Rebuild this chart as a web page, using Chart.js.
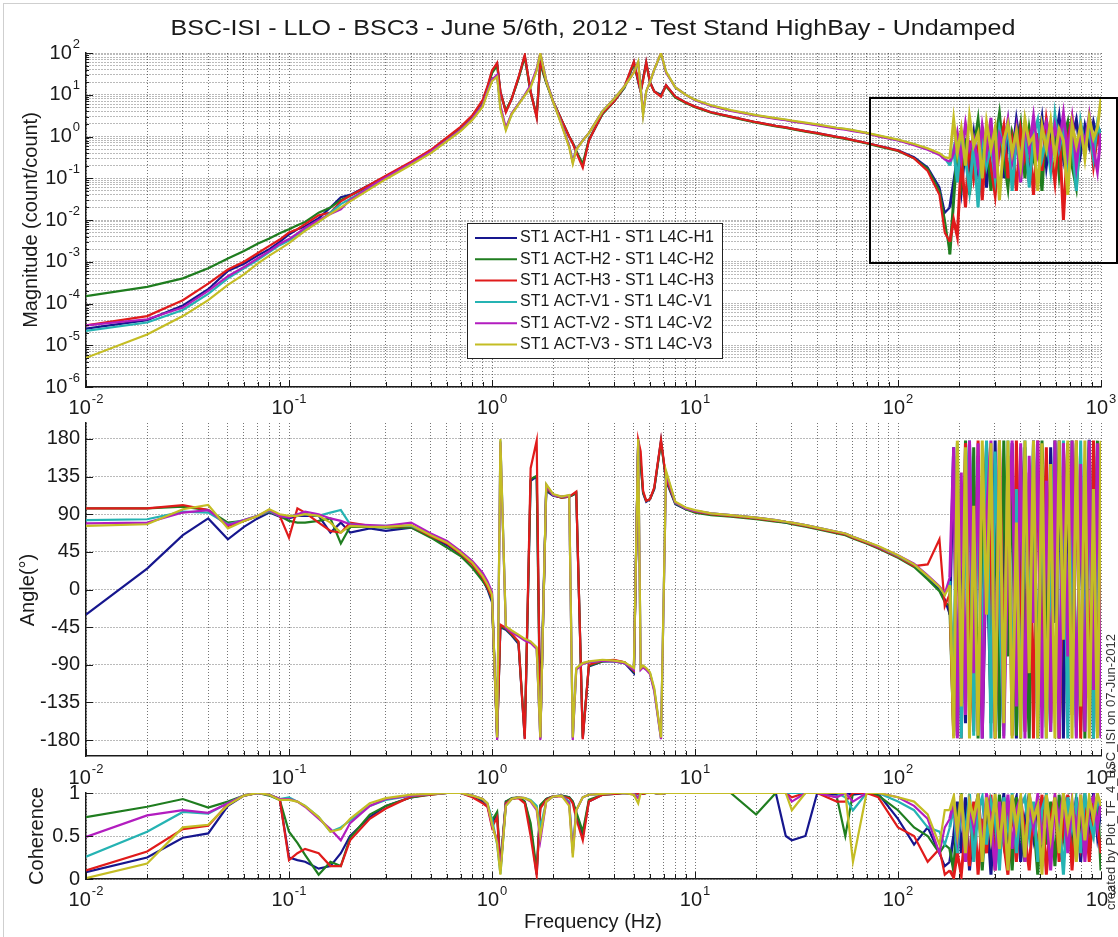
<!DOCTYPE html>
<html><head><meta charset="utf-8">
<script src="https://cdn.jsdelivr.net/npm/chart.js@4.4.1/dist/chart.umd.min.js"></script>
<style>
html,body{margin:0;padding:0;background:#fff;}
#wrap{position:relative;width:1118px;height:937px;overflow:hidden;background:#fff;}
canvas{position:absolute;left:0;}
#frame{position:absolute;left:3px;top:3px;width:1120px;height:940px;border-left:1px solid #cfcfcf;border-top:1px solid #cfcfcf;}
#side{position:absolute;left:960px;top:765px;width:300px;height:14px;line-height:14px;text-align:center;white-space:nowrap;
 font:13px "Liberation Sans",Arial,sans-serif;color:#333;transform:rotate(-90deg);transform-origin:150px 7px;z-index:5;}
</style></head><body>
<div id="wrap">
<div id="frame"></div>
<canvas id="cMag" width="1118" height="420" style="top:0px"></canvas>
<canvas id="cAng" width="1118" height="375" style="top:415px"></canvas>
<canvas id="cCoh" width="1118" height="152" style="top:785px"></canvas>
<div id="side">created by Plot_TF_4_BSC_ISI on 07-Jun-2012</div>
</div>
<script>
// ---------------- DATA ----------------
const freq = [
0.01,0.02,0.03,0.04,0.05,0.06,0.07,0.08,0.09,0.1,0.11,0.12,0.14,0.16,0.18,0.2,0.25,0.3,0.4,0.5,0.6,0.7,0.8,0.9,
0.95,1.0,1.06,1.1,1.17,1.25,1.35,1.45,1.55,1.66,1.73,1.85,2.0,2.2,2.4,2.5,2.6,2.8,3.0,3.5,4.0,4.5,5.0,5.25,5.4,5.55,5.75,6.0,6.3,6.8,7.2,8.0,9.0,10,
12,15,20,25,28,30,35,40,50,55,60,70,80,100,120,140,160,170,
180,188,196,205,215,225,236,248,260,273,287,301,316,332,348,365,383,402,422,443,465,488,512,538,565,593,622,653,686,720,756,794,833,875,918,960,1000];

const seriesNames = ['ST1 ACT-H1 - ST1 L4C-H1','ST1 ACT-H2 - ST1 L4C-H2','ST1 ACT-H3 - ST1 L4C-H3',
                     'ST1 ACT-V1 - ST1 L4C-V1','ST1 ACT-V2 - ST1 L4C-V2','ST1 ACT-V3 - ST1 L4C-V3'];
const seriesColors = ['#16168e','#1f7d1f','#e01b1b','#25b3b3','#b21dbf','#c4bd24'];

// Magnitude (count/count)
const magH1 = [2.5e-5,4e-5,9e-5,2.2e-4,6e-4,9e-4,1.4e-3,2e-3,3e-3,4.5e-3,6e-3,7e-3,1.1e-2,2e-2,3.5e-2,4e-2,7e-2,1.1e-1,2.4e-1,4.5e-1,0.9,1.6,3,7,
 15,35,55,12,4,8,25,85,12,3,60,20,7,2.5,1.0,0.7,0.45,0.2,0.8,3.5,7,15,60,20,12,25,60,20,12,10,17,9,6.5,5.2,
 3.8,3.0,2.2,1.8,1.65,1.55,1.35,1.2,0.98,0.9,0.82,0.7,0.6,0.47,0.32,0.18,0.06,0.015,
 0.02,0.08,0.3,0.05,0.6,0.2,1.2,0.15,0.8,0.06,1.5,0.4,2.2,0.1,0.9,0.3,2.5,0.5,1.2,0.08,1.8,0.6,2.8,0.2,1.5,0.7,3.0,0.3,1.4,0.9,2.5,0.4,1.8,0.6,2.2,0.9,1.5];
const magH2 = [1.5e-4,2.5e-4,4e-4,7e-4,1.2e-3,1.8e-3,2.7e-3,3.6e-3,4.8e-3,6e-3,7.5e-3,9e-3,1.5e-2,2e-2,3e-2,3.8e-2,6.5e-2,1.1e-1,2.3e-1,4.4e-1,0.85,1.55,2.9,6.8,
 14,33,50,11,4.2,8,24,80,11,3.2,55,19,7,2.5,1.0,0.7,0.45,0.22,0.85,3.4,7,15,55,22,12,24,55,20,12,9.5,16,8.5,6.3,5.0,
 3.7,2.9,2.15,1.75,1.6,1.5,1.3,1.17,0.95,0.88,0.8,0.68,0.58,0.45,0.3,0.17,0.05,0.01,
 0.0015,0.03,0.6,0.08,0.9,0.04,0.5,2.5,0.2,1.1,0.05,0.7,3.5,0.3,0.06,1.2,0.5,2.0,0.1,1.5,0.3,0.8,0.05,2.5,0.4,1.6,0.12,0.9,2.2,0.2,0.06,1.4,0.5,2.0,0.3,1.2,0.8];
const magH3 = [3e-5,5e-5,1.2e-4,3e-4,6.5e-4,1e-3,1.6e-3,2.4e-3,3.4e-3,5e-3,6e-3,8e-3,1.3e-2,1.5e-2,2.8e-2,3.8e-2,7e-2,1.15e-1,2.5e-1,4.8e-1,0.95,1.7,3.2,7.5,
 16,38,58,12,3.8,8,26,90,12,2.8,65,21,7,2.5,1.0,0.68,0.42,0.18,0.8,3.6,7,16,62,22,12,22,60,20,12,9,17,9,6.5,5.2,
 3.8,3.0,2.2,1.8,1.65,1.55,1.35,1.2,0.98,0.9,0.82,0.7,0.6,0.46,0.3,0.15,0.04,0.005,
 0.003,0.01,0.004,0.3,0.02,0.8,0.1,0.5,0.03,1.0,0.2,0.04,0.6,1.8,0.1,0.7,0.05,1.4,0.3,0.9,0.04,1.2,0.15,2.5,0.5,0.08,1.6,0.01,0.9,2.8,0.3,1.5,0.6,2.0,0.2,1.0,0.5];
const magV1 = [2.2e-5,3.5e-5,7e-5,1.7e-4,4e-4,7e-4,1.1e-3,1.7e-3,2.5e-3,3.2e-3,4.5e-3,6e-3,9e-3,1.5e-2,2.4e-2,3.2e-2,6e-2,1e-1,2.2e-1,4.2e-1,0.8,1.4,2.6,5.5,
 12,22,28,5,1.5,3.5,6,10,16,40,95,22,7,2,0.6,0.25,0.5,0.8,1.2,4,8,16,35,60,15,3.5,12,20,40,95,35,15,10,7.5,
 5.5,4.2,3.2,2.7,2.5,2.35,2.1,1.9,1.6,1.5,1.4,1.2,1.05,0.82,0.65,0.5,0.38,0.3,
 0.2,0.5,0.08,1.0,0.3,0.05,0.7,0.02,1.3,0.2,0.6,0.1,1.5,0.4,2.0,0.05,0.8,0.3,1.6,0.06,1.1,2.5,0.3,0.9,0.15,3.2,0.5,1.4,0.2,0.8,0.05,2.2,0.6,1.5,0.3,2.0,1.0];
const magV2 = [3e-5,4.2e-5,8e-5,2e-4,4.5e-4,7.5e-4,1.2e-3,1.8e-3,2.7e-3,3.5e-3,4.8e-3,6.5e-3,1e-2,1.4e-2,1.8e-2,3e-2,6.2e-2,1.05e-1,2.3e-1,4.4e-1,0.82,1.45,2.7,5.8,
 12,23,30,5.5,1.6,3.6,6,10,17,42,100,22,7,2,0.6,0.24,0.5,0.8,1.2,4,8,16,35,58,15,3.6,12,20,40,100,34,15,10,7.4,
 5.4,4.1,3.15,2.65,2.45,2.3,2.05,1.85,1.55,1.45,1.35,1.2,1.0,0.8,0.62,0.48,0.36,0.28,
 0.25,0.4,1.2,0.3,2.0,0.5,0.9,0.2,1.8,0.4,2.8,0.1,1.1,0.6,2.5,0.3,1.5,0.08,1.9,0.5,3.0,0.4,1.2,2.2,0.3,1.8,0.6,3.5,0.4,2.6,0.2,1.5,0.7,3.2,0.5,0.15,1.2];
const magV3 = [5e-6,1.8e-5,5e-5,1.2e-4,2.8e-4,5e-4,9e-4,1.4e-3,2e-3,2.8e-3,4e-3,5.5e-3,9e-3,1.4e-2,2e-2,2.8e-2,5.5e-2,9.5e-2,2.1e-1,4e-1,0.78,1.35,2.5,5.2,
 11,21,27,4.5,1.4,3.4,5.8,9.5,15,38,100,21,6.8,1.9,0.55,0.22,0.48,0.8,1.2,4,8,16,34,62,14,3.2,12,20,40,100,36,15,10,7.6,
 5.6,4.3,3.25,2.75,2.55,2.4,2.15,1.95,1.62,1.52,1.42,1.22,1.06,0.84,0.66,0.52,0.4,0.32,
 0.3,2.5,0.4,1.5,0.2,3.0,0.6,1.2,0.1,2.2,0.5,1.6,0.03,0.8,2.0,0.4,1.3,0.2,2.6,0.7,1.0,0.05,1.8,0.5,2.4,0.3,1.5,0.8,0.04,2.0,0.6,1.8,0.3,2.8,0.9,1.6,8.0];

// Angle (degrees)
const angH1 = [-30,25,65,85,60,75,85,92,87,85,88,88,88,68,80,68,73,70,74,63,53,42,30,12,
 0,-15,-175,-45,-48,-55,-65,-178,130,135,-150,118,112,110,111,113,115,-178,-92,-86,-86,-88,-100,178,150,115,105,108,120,178,130,102,96,93,
 90,88,85,82,80,79,76,73,68,66,62,56,50,39,29,14,0,-12,
 -30,170,-175,120,-160,175,-90,160,-178,60,-140,178,-170,100,-60,175,-178,30,170,-120,178,-175,90,-165,170,-40,178,-178,140,-100,175,-170,50,179,-178,160,-150];
const angH2 = [97,97,99,95,80,82,88,93,88,82,80,80,82,85,55,75,75,74,74,62,50,40,26,10,
 2,-12,-172,-44,-47,-54,-63,-175,132,136,-176,120,113,110,111,113,116,-176,-91,-86,-85,-87,-98,176,152,116,106,108,121,176,132,103,96,92,
 89,87,84,81,80,78,75,72,67,65,61,55,49,38,27,12,-2,-15,
 -20,-170,160,-150,178,-120,170,-178,40,175,-160,120,-178,178,-80,150,-175,170,-30,-178,160,-140,178,10,-170,175,-178,80,-120,178,-165,130,-178,170,-60,178,-175];
const angH3 = [97,97,101,95,76,82,88,94,88,62,97,92,80,70,68,80,76,75,76,64,55,43,30,14,
 3,-10,-178,-42,-46,-53,-62,-179,145,178,-178,122,113,110,111,114,117,-179,-90,-85,-84,-87,-97,179,165,118,106,108,122,179,133,104,97,93,
 90,88,85,82,81,79,76,73,68,66,62,56,50,39,28,30,60,-20,
 -5,-175,130,-178,175,-60,-170,178,-140,170,20,-178,178,-110,160,-175,178,-50,-170,140,-178,178,-90,170,-160,178,-178,60,175,-150,178,-178,110,-130,178,-170,175];
const angV1 = [83,84,93,92,78,83,88,94,88,87,90,90,88,92,95,78,76,76,76,66,57,45,33,18,
 8,-5,-178,178,-45,-50,-55,-60,-63,-70,-178,125,113,111,112,-178,-95,-88,-87,-85,-86,-88,-95,178,-95,-92,-95,-100,-120,-178,140,104,97,94,
 91,89,86,83,81,80,77,74,69,67,63,57,51,40,30,16,3,-6,
 10,-120,175,-178,80,178,-175,150,-90,178,-178,165,-20,-175,178,-150,120,-178,178,-70,175,-178,150,-178,40,178,-160,178,-178,100,-175,178,-110,178,-178,60,170];
const angV2 = [79,80,92,95,77,83,88,95,88,86,90,93,90,85,82,78,77,76,80,67,58,46,34,20,
 10,-3,-180,176,-46,-51,-56,-61,-64,-71,-180,124,113,111,112,-180,-96,-89,-87,-85,-86,-88,-96,177,-96,-93,-96,-101,-122,-179,138,104,97,94,
 91,89,86,83,81,80,77,74,69,67,63,57,51,41,31,17,4,-5,
 15,170,-178,140,-150,178,-100,175,-178,90,178,-170,175,-178,50,178,-140,175,-178,160,-40,178,-178,130,-170,178,-178,175,-80,178,-178,150,-170,178,-120,175,-178];
const angV3 = [76,78,96,101,73,82,88,96,90,88,88,90,88,80,68,76,75,75,77,65,56,44,32,16,
 6,-6,-177,180,-44,-49,-54,-59,-62,-69,-177,126,114,111,113,-177,-94,-88,-86,-84,-85,-87,-94,180,-94,-91,-94,-99,-118,-177,142,105,98,95,
 91,89,86,83,81,80,77,74,69,67,63,57,52,41,30,16,3,-7,
 5,-178,178,-140,170,-178,100,-175,178,-30,175,-178,178,-160,178,-178,80,-178,178,-100,178,-178,175,-178,150,-178,178,-60,178,-178,178,-140,178,-178,120,-178,178];

// Coherence
const cohH1 = [0.08,0.25,0.48,0.53,0.85,0.97,1.0,0.98,0.93,0.25,0.22,0.2,0.12,0.15,0.3,0.5,0.72,0.85,0.95,0.99,1,1,0.96,0.9,
 0.85,0.65,0.75,0.12,0.9,0.93,0.95,0.9,0.6,0.05,0.85,0.93,0.96,0.97,0.95,0.9,0.75,0.5,0.9,0.98,0.99,1,0.99,0.99,1,0.99,1,1,1,0.99,1,1,1,1,
 1,1,1,1,0.5,0.45,0.5,1,0.98,1,0.98,1,0.99,0.7,0.4,0.6,0.3,0.15,
 0.2,0.5,0.9,0.3,0.95,0.1,0.7,0.98,0.4,0.85,0.05,0.9,0.6,0.98,0.3,0.8,0.95,0.2,0.7,0.99,0.5,0.9,0.15,0.95,0.6,0.85,0.3,0.98,0.7,0.4,0.95,0.2,0.9,0.6,0.98,0.5,0.8];
const cohH2 = [0.72,0.84,0.93,0.83,0.9,0.97,1.0,0.97,0.92,0.55,0.42,0.28,0.05,0.2,0.15,0.48,0.75,0.85,0.95,0.98,1,1,0.97,0.92,
 0.86,0.68,0.78,0.15,0.9,0.94,0.95,0.9,0.65,0.1,0.86,0.93,0.96,0.97,0.95,0.9,0.78,0.55,0.92,0.98,0.99,1,0.99,0.99,1,0.99,1,1,1,0.99,1,1,1,1,
 1,1,0.75,1,1,1,1,1,0.95,0.5,1,1,0.97,0.8,0.6,0.5,0.3,0.4,
 0.35,0.1,0.7,0.95,0.2,0.8,0.5,0.97,0.1,0.9,0.6,0.3,0.98,0.45,0.85,0.1,0.95,0.6,0.2,0.9,0.7,0.05,0.95,0.4,0.9,0.15,0.98,0.5,0.85,0.2,0.9,0.6,0.98,0.3,0.7,0.95,0.1];
const cohH3 = [0.1,0.32,0.58,0.62,0.87,0.97,1.0,0.98,0.93,0.22,0.3,0.35,0.3,0.15,0.15,0.45,0.7,0.82,0.96,0.98,1,1,0.95,0.88,
 0.84,0.6,0.72,0.1,0.88,0.93,0.94,0.88,0.5,0.04,0.82,0.92,0.96,0.96,0.94,0.88,0.7,0.45,0.9,0.98,0.99,1,0.98,0.99,1,0.99,1,1,1,0.99,1,1,1,1,
 1,1,1,1,1,0.95,1,1,0.9,0.9,1,1,0.95,0.6,0.5,0.2,0.35,0.05,
 0.1,0.02,0.3,0.05,0.6,0.15,0.9,0.05,0.7,0.3,0.98,0.1,0.8,0.4,0.05,0.9,0.2,0.95,0.5,0.1,0.85,0.3,0.98,0.05,0.7,0.95,0.2,0.6,0.98,0.1,0.8,0.4,0.9,0.2,0.95,0.6,0.3];
const cohV1 = [0.26,0.55,0.78,0.76,0.88,0.97,1.0,0.98,0.93,0.95,0.9,0.85,0.72,0.55,0.6,0.68,0.85,0.92,0.97,0.99,1,1,0.97,0.93,
 0.88,0.7,0.4,0.06,0.85,0.93,0.95,0.94,0.92,0.85,0.6,0.9,0.96,0.97,0.9,0.35,0.8,0.95,0.98,0.99,1,1,0.99,0.95,1,1,1,1,1,0.99,1,1,1,1,
 1,1,1,1,1,1,1,1,1,0.95,0.8,1,1,0.9,0.8,0.6,0.55,0.4,
 0.6,0.85,0.3,0.95,0.5,0.99,0.2,0.8,0.95,0.4,0.9,0.7,0.1,0.95,0.6,0.98,0.3,0.85,0.95,0.5,0.9,0.2,0.8,0.98,0.45,0.9,0.7,0.05,0.95,0.6,0.9,0.3,0.98,0.7,0.5,0.95,0.8];
const cohV2 = [0.49,0.74,0.8,0.77,0.88,0.97,1.0,0.98,0.93,0.93,0.9,0.84,0.7,0.58,0.45,0.65,0.85,0.93,0.97,0.99,1,1,0.97,0.93,
 0.87,0.62,0.45,0.12,0.86,0.93,0.95,0.94,0.9,0.8,0.45,0.9,0.96,0.97,0.88,0.3,0.8,0.95,0.98,0.99,1,1,0.99,0.94,1,1,1,1,1,0.99,1,1,1,1,
 1,1,1,1,1,0.9,1,1,0.95,1,0.9,1,1,0.95,0.85,0.7,0.3,0.6,
 0.7,0.9,0.5,0.98,0.2,0.85,0.6,0.95,0.3,0.99,0.7,0.1,0.9,0.5,0.98,0.35,0.8,0.95,0.2,0.9,0.6,0.98,0.4,0.85,0.1,0.95,0.7,0.98,0.3,0.9,0.55,0.98,0.2,0.85,0.95,0.6,0.9];
const cohV3 = [0.01,0.18,0.6,0.63,0.86,0.97,1.0,0.98,0.92,0.92,0.9,0.85,0.72,0.55,0.58,0.7,0.88,0.94,0.98,0.99,1,1,0.97,0.93,
 0.88,0.64,0.42,0.05,0.85,0.93,0.95,0.94,0.91,0.82,0.5,0.9,0.96,0.97,0.85,0.25,0.8,0.95,0.98,0.99,1,1,0.98,0.88,1,1,1,1,1,0.99,1,1,1,1,
 1,1,1,1,1,0.8,1,1,1,1,0.2,1,1,0.95,0.9,0.75,0.4,0.8,
 0.8,0.95,0.55,0.99,0.3,0.9,0.7,0.98,0.2,0.95,0.5,0.99,0.35,0.9,0.1,0.98,0.6,0.95,0.25,0.99,0.7,0.85,0.05,0.98,0.5,0.95,0.3,0.99,0.6,0.9,0.2,0.98,0.45,0.95,0.7,0.99,0.85];

// Axis ticks / labels
const xTickExps = [-2,-1,0,1,2,3];
const magTickExps = [2,1,0,-1,-2,-3,-4,-5,-6];
const angTicks = [180,135,90,45,0,-45,-90,-135,-180];
const cohTicks = [0,0.5,1];
const cohTickLabels = ['0','0.5','1'];
const titleText = 'BSC-ISI - LLO - BSC3 - June 5/6th, 2012 - Test Stand HighBay - Undamped';

// ---------------- STYLE / HELPERS ----------------
const FONT = '"Liberation Sans", Arial, Helvetica, sans-serif';
const F_MAIN = '20px ' + FONT;
const F_EXP = '13px ' + FONT;
const TXT = '#1a1a1a';
const GRID = 'rgba(70,70,70,0.75)';
const NOISE_FROM = 175;

const xGrid = [];
for (let e = -2; e <= 2; e++) for (let m = 1; m <= 9; m++) xGrid.push(m * Math.pow(10, e));
xGrid.push(1000);
const magGrid = [];
for (let e = -6; e <= 1; e++) for (let m = 1; m <= 9; m++) magGrid.push(m * Math.pow(10, e));
magGrid.push(100);

function isDecade(v){ const l = Math.log10(v); return Math.abs(l - Math.round(l)) < 1e-6; }

function makeSets(list){
  return list.map((vals, i) => ({
    label: seriesNames[i],
    data: freq.map((f, j) => ({x: f, y: vals[j]})),
    borderColor: seriesColors[i], backgroundColor: seriesColors[i],
    borderWidth: 2.2, pointRadius: 0, tension: 0, fill: false, order: 5 - i,
    segment: {borderWidth: c => (c.p0.parsed.x >= NOISE_FROM ? 3 : undefined)}
  }));
}

function xScaleCfg(h){
  return {
    type: 'logarithmic', min: 0.01, max: 1000,
    afterBuildTicks: s => { s.ticks = xGrid.map(v => ({value: v})); },
    afterFit: s => { s.height = h; },
    ticks: {display: false},
    grid: {color: GRID, lineWidth: 1, drawTicks: false},
    border: {display: true, color: '#1a1a1a', width: 1.5, dash: [1, 2]}
  };
}

function drawPow(ctx, base, exp, x, y, align){
  ctx.font = F_MAIN; const wb = ctx.measureText(base).width;
  ctx.font = F_EXP; const we = ctx.measureText(exp).width;
  const total = wb + we + 1;
  const x0 = align === 'center' ? x - total / 2 : x - total;
  ctx.fillStyle = TXT; ctx.textAlign = 'left'; ctx.textBaseline = 'middle';
  ctx.font = F_MAIN; ctx.fillText(base, x0, y);
  ctx.font = F_EXP; ctx.fillText(exp, x0 + wb + 1, y - 9);
}

function drawXTicksAndLabels(chart, labelY){
  const ctx = chart.ctx, xs = chart.scales.x, b = chart.chartArea.bottom;
  ctx.save();
  ctx.strokeStyle = '#1a1a1a'; ctx.lineWidth = 1;
  xGrid.forEach(v => {
    const px = Math.round(xs.getPixelForValue(v)) + 0.5;
    const len = isDecade(v) ? 7 : 5;
    ctx.beginPath(); ctx.moveTo(px, b); ctx.lineTo(px, b - len); ctx.stroke();
  });
  xTickExps.forEach(e => drawPow(ctx, '10', String(e), xs.getPixelForValue(Math.pow(10, e)), labelY, 'center'));
  ctx.restore();
}

function drawYTicks(chart, values, lenFn){
  const ctx = chart.ctx, ys = chart.scales.y, l = chart.chartArea.left;
  ctx.save(); ctx.strokeStyle = '#1a1a1a'; ctx.lineWidth = 1;
  values.forEach(v => {
    const py = Math.round(ys.getPixelForValue(v)) + 0.5;
    ctx.beginPath(); ctx.moveTo(l, py); ctx.lineTo(l + lenFn(v), py); ctx.stroke();
  });
  ctx.restore();
}

function drawRotated(ctx, text, x, y){
  ctx.save(); ctx.translate(x, y); ctx.rotate(-Math.PI / 2);
  ctx.font = F_MAIN; ctx.fillStyle = TXT; ctx.textAlign = 'center'; ctx.textBaseline = 'middle';
  ctx.fillText(text, 0, 0); ctx.restore();
}

const baseOpts = {responsive: false, animation: false, devicePixelRatio: 1,
  plugins: {legend: {display: false}, tooltip: {enabled: false}, title: {display: false}},
  elements: {line: {tension: 0}, point: {radius: 0}}};

// ---------------- MAGNITUDE ----------------
new Chart(document.getElementById('cMag'), {
  type: 'line',
  data: {datasets: makeSets([magH1, magH2, magH3, magV1, magV2, magV3])},
  options: Object.assign({}, baseOpts, {
    layout: {padding: {left: 0, right: 17, top: 53, bottom: 0}},
    scales: {
      x: xScaleCfg(33),
      y: {type: 'logarithmic', min: 1e-6, max: 100,
          afterBuildTicks: s => { s.ticks = magGrid.map(v => ({value: v})); },
          afterFit: s => { s.width = 86; },
          ticks: {display: false},
          grid: {color: GRID, lineWidth: 1, drawTicks: false},
          border: {display: true, color: '#1a1a1a', width: 1.5, dash: [1, 2]}}
    }
  }),
  plugins: [{
    id: 'magDecor',
    afterDraw(chart){
      const ctx = chart.ctx, ys = chart.scales.y;
      drawXTicksAndLabels(chart, 408);
      drawYTicks(chart, magGrid, v => isDecade(v) ? 7 : 3);
      magTickExps.forEach(e => drawPow(ctx, '10', String(e), 80, ys.getPixelForValue(Math.pow(10, e)), 'right'));
      // title (horizontally widened like the reference)
      ctx.save();
      ctx.translate(593, 29); ctx.scale(1.14, 1);
      ctx.font = '22px ' + FONT; ctx.fillStyle = TXT; ctx.textAlign = 'center'; ctx.textBaseline = 'middle';
      ctx.fillText(titleText, 0, 0);
      ctx.restore();
      drawRotated(ctx, 'Magnitude (count/count)', 31, 220);
      // legend
      ctx.save();
      ctx.fillStyle = '#fff'; ctx.fillRect(467, 223, 255, 135);
      ctx.strokeStyle = '#222'; ctx.lineWidth = 1; ctx.strokeRect(467.5, 223.5, 255, 135);
      chart.data.datasets.forEach((ds, i) => {
        const y = 238 + i * 21.3;
        ctx.strokeStyle = ds.borderColor; ctx.lineWidth = 2;
        ctx.beginPath(); ctx.moveTo(475, y); ctx.lineTo(517, y); ctx.stroke();
        ctx.fillStyle = TXT; ctx.font = '16px ' + FONT; ctx.textAlign = 'left'; ctx.textBaseline = 'middle';
        ctx.fillText(ds.label, 520, y);
      });
      // highlight box
      ctx.strokeStyle = '#000'; ctx.lineWidth = 2;
      ctx.strokeRect(870, 98, 247, 165);
      ctx.restore();
    }
  }]
});

// ---------------- ANGLE ----------------
new Chart(document.getElementById('cAng'), {
  type: 'line',
  data: {datasets: makeSets([angH1, angH2, angH3, angV1, angV2, angV3])},
  options: Object.assign({}, baseOpts, {
    layout: {padding: {left: 0, right: 17, top: 8, bottom: 0}},
    scales: {
      x: xScaleCfg(34),
      y: {type: 'linear', min: -199.1, max: 199.1,
          afterBuildTicks: s => { s.ticks = angTicks.map(v => ({value: v})); },
          afterFit: s => { s.width = 86; },
          ticks: {display: false},
          grid: {color: GRID, lineWidth: 1, drawTicks: false},
          border: {display: true, color: '#1a1a1a', width: 1.5, dash: [1, 2]}}
    }
  }),
  plugins: [{
    id: 'angDecor',
    afterDraw(chart){
      const ctx = chart.ctx, ys = chart.scales.y;
      drawXTicksAndLabels(chart, 363);
      drawYTicks(chart, angTicks, () => 7);
      ctx.save();
      ctx.font = F_MAIN; ctx.fillStyle = TXT; ctx.textAlign = 'right'; ctx.textBaseline = 'middle';
      angTicks.forEach(v => ctx.fillText(String(v), 80, ys.getPixelForValue(v)));
      ctx.restore();
      drawRotated(ctx, 'Angle(°)', 28, 175);
    }
  }]
});

// ---------------- COHERENCE ----------------
new Chart(document.getElementById('cCoh'), {
  type: 'line',
  data: {datasets: makeSets([cohH1, cohH2, cohH3, cohV1, cohV2, cohV3])},
  options: Object.assign({}, baseOpts, {
    layout: {padding: {left: 0, right: 17, top: 8, bottom: 0}},
    scales: {
      x: xScaleCfg(58),
      y: {type: 'linear', min: 0, max: 1,
          afterBuildTicks: s => { s.ticks = cohTicks.map(v => ({value: v})); },
          afterFit: s => { s.width = 86; },
          ticks: {display: false},
          grid: {color: GRID, lineWidth: 1, drawTicks: false},
          border: {display: true, color: '#1a1a1a', width: 1.5, dash: [1, 2]}}
    }
  }),
  plugins: [{
    id: 'cohDecor',
    afterDraw(chart){
      const ctx = chart.ctx, ys = chart.scales.y;
      drawXTicksAndLabels(chart, 115);
      drawYTicks(chart, cohTicks, () => 7);
      ctx.save();
      ctx.font = F_MAIN; ctx.fillStyle = TXT; ctx.textAlign = 'right'; ctx.textBaseline = 'middle';
      cohTicks.forEach((v, i) => ctx.fillText(cohTickLabels[i], 80, ys.getPixelForValue(v)));
      ctx.textAlign = 'center';
      ctx.fillText('Frequency (Hz)', 593, 137);
      ctx.restore();
      drawRotated(ctx, 'Coherence', 37, 51);
    }
  }]
});
</script>
</body></html>
